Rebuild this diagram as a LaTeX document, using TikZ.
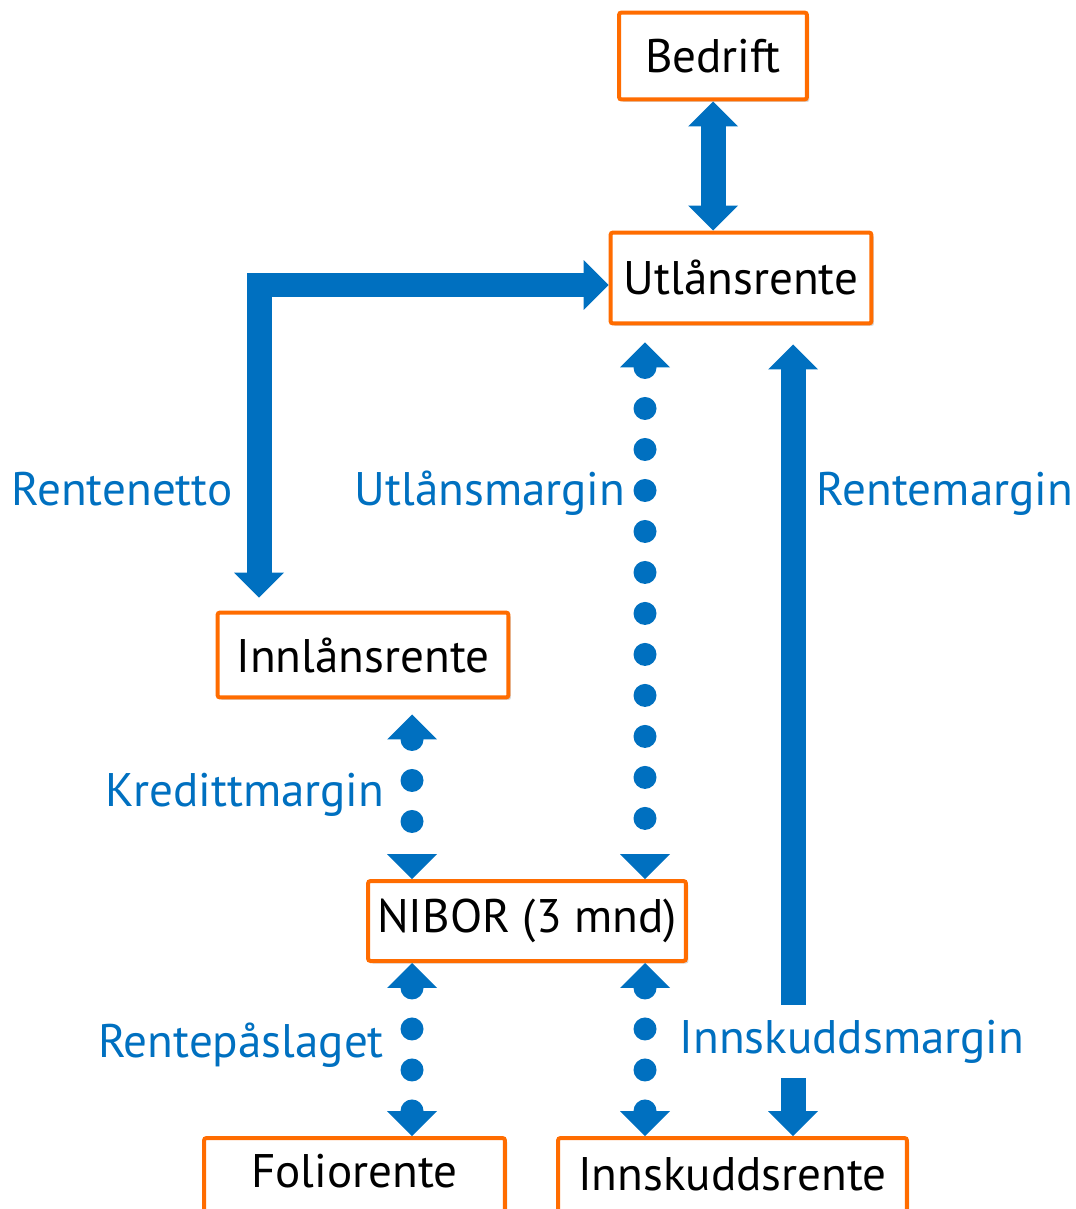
\documentclass[tikz,border=0pt]{standalone}
\usepackage{fontspec}
\setmainfont{PT Sans}
\usetikzlibrary{arrows.meta,shadows}
\definecolor{boxorange}{RGB}{255,108,0}
\definecolor{flowblue}{RGB}{0,112,192}

\begin{document}
\begin{tikzpicture}[x=0.02cm,y=-0.02cm,
  >={Triangle[width=1cm,length=0.5cm,line width=0pt]},
  box/.style={draw=boxorange,line width=0.08cm,fill=white,rounded corners=0.05cm,
    drop shadow={shadow xshift=0.05cm,shadow yshift=-0.05cm,opacity=0.3},
    font=\fontsize{26.8}{32}\selectfont,inner sep=0pt},
  lbl/.style={text=flowblue,font=\fontsize{26.8}{32}\selectfont,inner sep=0pt,anchor=base},
  bigarrow/.style={draw=flowblue,line width=0.5cm,<->},
  dotarrow/.style={draw=flowblue,line width=0.46cm,line cap=round,
    dash pattern=on 0pt off 0.82cm,<->}]
  \clip(0,0)rectangle(1075,1209);
  % boxes
  \node[box,minimum width=3.76cm,minimum height=1.74cm](bedrift)at(713,56){Bedrift};
  \node[box,minimum width=5.22cm,minimum height=1.82cm](utlan)at(741,278){Utlånsrente};
  \node[box,minimum width=5.82cm,minimum height=1.7cm](innlan)at(363,655){Innlånsrente};
  \node[box,minimum width=6.36cm,minimum height=1.6cm](nibor)at(527,921){NIBOR (3 mnd)};
  \node[box,minimum width=6.02cm,anchor=north,text height=0.98cm,text depth=1cm](folio)at(354.5,1136){Foliorente};
  \node[box,minimum width=6.98cm,anchor=north,text height=1.04cm,text depth=1cm](innskudd)at(732.5,1136){Innskuddsrente};
  % columns of the connectors
  \coordinate(c1)at(259,285);
  \coordinate(c2)at(645,0);
  \coordinate(c3)at(412,0);
  \coordinate(c5)at(793,0);
  % solid arrows
  \draw[bigarrow](bedrift.south)--(bedrift.south|-utlan.north);
  \draw[bigarrow,shorten <=0.26cm](innlan.north-|c1)|-([yshift=-0.14cm]utlan.west);
  \draw[bigarrow,shorten >=0.38cm](innskudd.north-|c5)--(utlan.south-|c5);
  % dotted arrows
  \draw[dotarrow,shorten <=0.34cm](utlan.south-|c2)--(nibor.north-|c2);
  \draw[dotarrow,shorten <=0.3cm](innlan.south-|c3)--(nibor.north-|c3);
  \draw[dotarrow](nibor.south-|c3)--(folio.north-|c3);
  \draw[dotarrow](nibor.south-|c2)--(innskudd.north-|c2);
  % labels
  \node[lbl](netto)at(122,505){Rentenetto};
  \node[lbl](utmargin)at(490,505){Utlånsmargin};
  \node[lbl](rmargin)at(945,505){Rentemargin};
  \node[lbl](kmargin)at(245,806){Kredittmargin};
  \node[lbl](paslag)at(241,1057){Rentepåslaget};
  \node[lbl,fill=white,inner xsep=0.1cm,inner ysep=0.3cm](imargin)at(852,1053){Innskuddsmargin};
\end{tikzpicture}
\end{document}
